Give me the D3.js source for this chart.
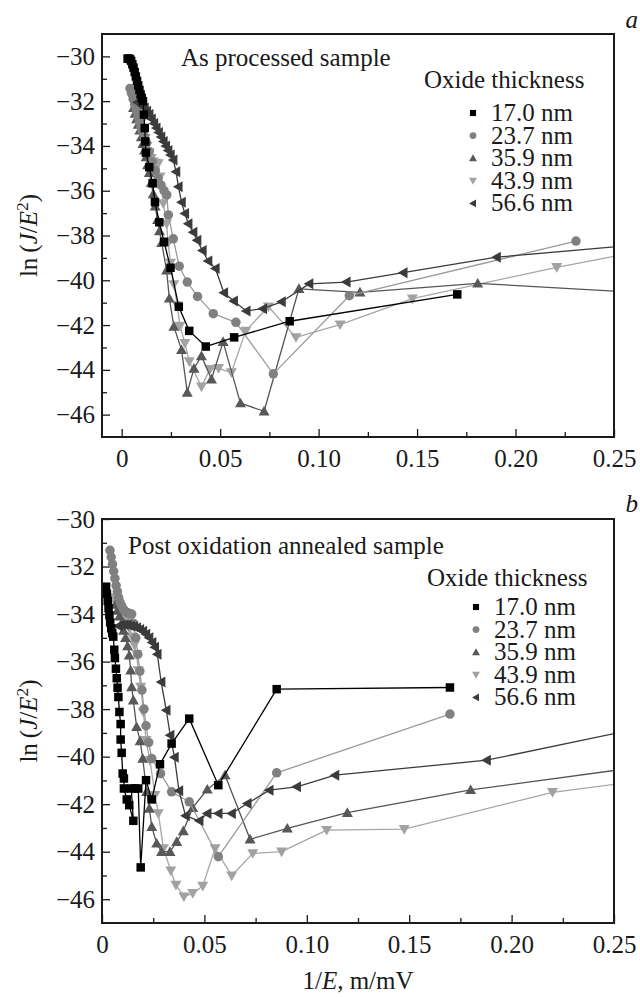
<!DOCTYPE html>
<html><head><meta charset="utf-8">
<script src="https://cdn.jsdelivr.net/npm/d3@7"></script>
<style>
body{margin:0;background:#fff;}
svg{display:block;}
text{font-family:"Liberation Serif","Times New Roman",serif;fill:#1a1a1a;}
</style>
</head><body>
<svg id="chart" width="640" height="997"></svg>
<script>
// ---------- DATA ----------
const seriesNames = ["17.0 nm","23.7 nm","35.9 nm","43.9 nm","56.6 nm"];
const xTickVals = [0, 0.05, 0.10, 0.15, 0.20, 0.25];
const xTickLabels = ["0","0.05","0.10","0.15","0.20","0.25"];
const xMinorVals = [0.025, 0.075, 0.125, 0.175, 0.225];
const yTickVals = [-30,-32,-34,-36,-38,-40,-42,-44,-46];
const yMinorVals = [-31,-33,-35,-37,-39,-41,-43,-45];

// Panel a: As processed sample  [1/E (m/mV), ln(J/E^2)]
const a17 = [[0.0030,-30.10],[0.0036,-30.10],[0.0042,-30.12],[0.0048,-30.20],[0.0054,-30.35],[0.0060,-30.50],[0.0066,-30.70],[0.0072,-30.90],[0.0078,-31.10],[0.0084,-31.30],[0.0090,-31.50],[0.0096,-31.70],[0.0102,-31.85],[0.0108,-32.00],[0.0113,-32.60],[0.0117,-33.20],[0.0120,-33.80],[0.0123,-34.30],[0.0140,-34.95],[0.0157,-35.67],[0.0169,-36.51],[0.0191,-37.41],[0.0215,-38.28],[0.0248,-39.44],[0.0290,-41.18],[0.0343,-42.26],[0.0427,-42.96],[0.0571,-42.55],[0.0853,-41.83],[0.1704,-40.63]];
const a23 = [[0.0042,-31.43],[0.0050,-31.65],[0.0058,-31.90],[0.0066,-32.15],[0.0074,-32.40],[0.0082,-32.65],[0.0090,-32.90],[0.0098,-33.15],[0.0106,-33.35],[0.0114,-33.55],[0.0125,-33.85],[0.0140,-34.25],[0.0155,-34.70],[0.0170,-35.10],[0.0185,-35.45],[0.0200,-35.75],[0.0215,-36.00],[0.0229,-36.19],[0.0237,-37.08],[0.0262,-38.15],[0.0292,-39.37],[0.0333,-40.08],[0.0385,-40.72],[0.0465,-41.49],[0.0580,-41.88],[0.0770,-44.18],[0.1156,-40.69],[0.2307,-38.25]];
const a36 = [[0.0060,-32.30],[0.0068,-32.55],[0.0076,-32.80],[0.0084,-33.05],[0.0092,-33.30],[0.0100,-33.60],[0.0108,-33.90],[0.0116,-34.20],[0.0124,-34.50],[0.0132,-34.85],[0.0140,-35.20],[0.0150,-35.65],[0.0160,-36.15],[0.0170,-36.70],[0.0182,-37.30],[0.0192,-37.80],[0.0203,-38.33],[0.0228,-39.55],[0.0242,-40.81],[0.0265,-42.07],[0.0304,-43.11],[0.0333,-45.01],[0.0367,-43.94],[0.0405,-43.38],[0.0456,-44.42],[0.0515,-42.75],[0.0603,-45.49],[0.0723,-45.85],[0.0900,-40.38],[0.1210,-40.54],[0.1808,-40.14],[0.2700,-40.58]];
const a44 = [[0.0070,-32.00],[0.0080,-32.30],[0.0090,-32.60],[0.0100,-32.95],[0.0110,-33.30],[0.0120,-33.65],[0.0130,-34.00],[0.0140,-34.30],[0.0150,-34.55],[0.0160,-34.70],[0.0172,-34.75],[0.0186,-34.78],[0.0195,-35.37],[0.0211,-36.57],[0.0228,-37.47],[0.0236,-38.33],[0.0248,-39.22],[0.0265,-40.18],[0.0282,-41.12],[0.0296,-42.04],[0.0321,-42.81],[0.0343,-43.63],[0.0405,-44.75],[0.0448,-43.97],[0.0492,-43.93],[0.0557,-44.12],[0.0630,-42.26],[0.0745,-41.18],[0.0885,-42.55],[0.1109,-41.98],[0.1476,-40.82],[0.2209,-39.42],[0.2700,-38.60]];
const a57 = [[0.0080,-32.05],[0.0092,-32.10],[0.0104,-32.20],[0.0116,-32.30],[0.0128,-32.45],[0.0140,-32.60],[0.0152,-32.80],[0.0164,-33.00],[0.0176,-33.20],[0.0188,-33.40],[0.0200,-33.60],[0.0212,-33.80],[0.0224,-34.00],[0.0236,-34.20],[0.0248,-34.40],[0.0262,-34.63],[0.0276,-35.15],[0.0288,-35.82],[0.0304,-36.51],[0.0321,-37.02],[0.0338,-37.47],[0.0363,-37.85],[0.0383,-38.21],[0.0410,-38.67],[0.0439,-39.14],[0.0476,-39.47],[0.0519,-40.56],[0.0569,-40.93],[0.0633,-41.37],[0.0717,-41.27],[0.0812,-40.96],[0.0952,-40.16],[0.1141,-40.08],[0.1430,-39.66],[0.1904,-38.97],[0.2700,-38.35]];

// Panel b: Post oxidation annealed sample
const b17 = [[0.0020,-32.85],[0.0024,-33.15],[0.0028,-33.45],[0.0032,-33.75],[0.0036,-34.05],[0.0040,-34.35],[0.0045,-34.60],[0.0050,-34.80],[0.0055,-34.95],[0.0060,-35.50],[0.0063,-35.85],[0.0068,-36.30],[0.0072,-36.70],[0.0076,-37.10],[0.0080,-37.49],[0.0085,-38.12],[0.0091,-38.63],[0.0091,-39.28],[0.0096,-39.84],[0.0101,-40.71],[0.0107,-40.92],[0.0107,-41.34],[0.0121,-41.80],[0.0133,-42.04],[0.0153,-42.70],[0.0143,-41.34],[0.0161,-41.34],[0.0177,-41.34],[0.0189,-44.66],[0.0215,-40.99],[0.0243,-41.80],[0.0283,-40.32],[0.0340,-39.45],[0.0426,-38.40],[0.0568,-41.20],[0.0853,-37.16],[0.1699,-37.09]];
const b23 = [[0.0039,-31.32],[0.0045,-31.60],[0.0051,-31.90],[0.0057,-32.20],[0.0063,-32.50],[0.0069,-32.80],[0.0075,-33.05],[0.0081,-33.30],[0.0088,-33.50],[0.0096,-33.65],[0.0105,-33.80],[0.0115,-33.90],[0.0125,-33.95],[0.0135,-33.98],[0.0145,-34.00],[0.0155,-34.40],[0.0165,-35.00],[0.0175,-35.70],[0.0185,-36.40],[0.0195,-37.20],[0.0205,-38.00],[0.0215,-38.70],[0.0228,-39.40],[0.0243,-40.08],[0.0286,-40.71],[0.0340,-41.48],[0.0426,-41.90],[0.0568,-44.21],[0.0853,-40.68],[0.1699,-38.21]];
const b36 = [[0.0065,-33.60],[0.0075,-33.85],[0.0085,-34.10],[0.0095,-34.40],[0.0105,-34.70],[0.0115,-35.00],[0.0125,-35.35],[0.0133,-35.74],[0.0140,-36.37],[0.0145,-37.07],[0.0153,-37.63],[0.0169,-38.75],[0.0186,-39.34],[0.0199,-40.08],[0.0218,-41.48],[0.0231,-42.18],[0.0243,-42.95],[0.0267,-43.65],[0.0291,-44.00],[0.0332,-44.00],[0.0365,-43.58],[0.0397,-43.13],[0.0443,-42.15],[0.0514,-41.38],[0.0601,-40.78],[0.0723,-43.48],[0.0905,-43.02],[0.1198,-42.36],[0.1800,-41.40],[0.2700,-40.35]];
const b44 = [[0.0050,-33.30],[0.0062,-33.40],[0.0074,-33.55],[0.0086,-33.70],[0.0098,-33.85],[0.0110,-34.05],[0.0122,-34.30],[0.0134,-34.60],[0.0146,-34.95],[0.0158,-35.30],[0.0169,-35.69],[0.0177,-36.37],[0.0189,-37.07],[0.0202,-38.12],[0.0215,-39.31],[0.0234,-40.15],[0.0259,-41.62],[0.0275,-42.39],[0.0300,-43.86],[0.0336,-44.80],[0.0361,-45.40],[0.0400,-45.89],[0.0443,-45.75],[0.0492,-45.44],[0.0552,-43.86],[0.0633,-45.01],[0.0736,-44.07],[0.0877,-44.00],[0.1097,-43.09],[0.1476,-43.05],[0.2200,-41.50],[0.2700,-40.95]];
const b57 = [[0.0080,-34.50],[0.0095,-34.45],[0.0110,-34.45],[0.0125,-34.45],[0.0140,-34.50],[0.0155,-34.52],[0.0170,-34.58],[0.0185,-34.65],[0.0200,-34.72],[0.0215,-34.85],[0.0230,-35.00],[0.0245,-35.20],[0.0258,-35.40],[0.0270,-35.69],[0.0289,-36.86],[0.0314,-38.05],[0.0333,-39.10],[0.0354,-40.03],[0.0376,-41.44],[0.0408,-42.49],[0.0475,-42.70],[0.0514,-42.39],[0.0568,-42.39],[0.0633,-42.39],[0.0710,-41.97],[0.0817,-41.41],[0.0951,-41.27],[0.1138,-40.78],[0.1878,-40.15],[0.2700,-38.67]];

// ---------- STYLE ----------
const styles = [
  {shape:"square", fill:"#000000", line:"#000000", size:8.5},
  {shape:"circle", fill:"#808080", line:"#9a9a9a", size:9.5},
  {shape:"up",     fill:"#585858", line:"#555555", size:11},
  {shape:"down",   fill:"#a2a2a2", line:"#a6a6a6", size:11},
  {shape:"left",   fill:"#3b3b3b", line:"#3b3b3b", size:11}
];
const drawOrder = [3,2,1,4,0];

function markerPath(shape, s){
  const h = s/2;
  switch(shape){
    case "square": return `M${-h},${-h}h${s}v${s}h${-s}Z`;
    case "circle": return `M${h},0A${h},${h} 0 1,1 ${-h},0A${h},${h} 0 1,1 ${h},0Z`;
    case "up":   return `M0,${-s*0.5}L${h},${s*0.38}L${-h},${s*0.38}Z`;
    case "down": return `M0,${s*0.5}L${h},${-s*0.38}L${-h},${-s*0.38}Z`;
    case "left": return `M${-s*0.5},0L${s*0.38},${-h}L${s*0.38},${h}Z`;
  }
}

const svg = d3.select("#chart");
const X0 = 102, X1 = 614;
const FS = 25;

const panels = [
  {id:"a", top:34, bottom:437, xDomain:[-0.01,0.25], yDomain:[-47,-29], series:[a17,a23,a36,a44,a57],
   title:"As processed sample", titleX:181, titleY:66, legX:424, legY:88, entryY0:121, letterY:28},
  {id:"b", top:519, bottom:923, xDomain:[0,0.25], yDomain:[-47,-30], series:[b17,b23,b36,b44,b57],
   title:"Post oxidation annealed sample", titleX:128, titleY:554, legX:427, legY:586, entryY0:615, letterY:512}
];
const entryStep = 22.6;

panels.forEach(p => {
  const x = d3.scaleLinear().domain(p.xDomain).range([X0, X1]);
  const y = d3.scaleLinear().domain(p.yDomain).range([p.bottom, p.top]);
  const g = svg.append("g");

  const clipId = "clip-" + p.id;
  svg.append("clipPath").attr("id", clipId).append("rect")
    .attr("x", X0).attr("y", p.top).attr("width", X1 - X0).attr("height", p.bottom - p.top);

  // axes (ticks inward)
  const yAx = g.append("g").attr("transform", `translate(${X0},0)`)
    .call(d3.axisLeft(y).tickValues(yTickVals).tickSize(-8).tickPadding(7).tickFormat(d => "\u2212" + Math.abs(d)));
  const yMin = g.append("g").attr("transform", `translate(${X0},0)`)
    .call(d3.axisLeft(y).tickValues(yMinorVals).tickSize(-5).tickFormat(""));
  const xAx = g.append("g").attr("transform", `translate(0,${p.bottom})`)
    .call(d3.axisBottom(x).tickValues(xTickVals).tickSize(-8).tickPadding(12).tickFormat((d,i) => xTickLabels[i]));
  const xMin = g.append("g").attr("transform", `translate(0,${p.bottom})`)
    .call(d3.axisBottom(x).tickValues(xMinorVals).tickSize(-5).tickFormat(""));
  [yAx, yMin, xAx, xMin].forEach(a => {
    a.select(".domain").remove();
    a.selectAll("line").attr("stroke", "#1a1a1a").attr("stroke-width", 1.3);
    a.selectAll("text").attr("font-size", FS).attr("font-family", '"Liberation Serif", serif').attr("fill", "#1a1a1a");
  });

  // series
  const plot = g.append("g").attr("clip-path", `url(#${clipId})`);
  const line = d3.line().x(d => x(d[0])).y(d => y(d[1]));
  drawOrder.forEach(si => {
    const st = styles[si], data = p.series[si];
    plot.append("path").datum(data).attr("d", line)
      .attr("fill", "none").attr("stroke", st.line).attr("stroke-width", 1.3).attr("stroke-linejoin", "round");
    plot.selectAll(null).data(data).enter().append("path")
      .attr("transform", d => `translate(${x(d[0])},${y(d[1])})`)
      .attr("d", markerPath(st.shape, st.size))
      .attr("fill", st.fill);
  });

  // frame
  g.append("rect").attr("x", X0).attr("y", p.top).attr("width", X1 - X0).attr("height", p.bottom - p.top)
    .attr("fill", "none").attr("stroke", "#1a1a1a").attr("stroke-width", 2);

  // panel annotations
  g.append("text").attr("x", p.titleX).attr("y", p.titleY).attr("font-size", FS).text(p.title);
  g.append("text").attr("x", 638).attr("y", p.letterY).attr("text-anchor", "end")
    .attr("font-size", FS).attr("font-style", "italic").text(p.id);

  // legend
  g.append("text").attr("x", p.legX).attr("y", p.legY).attr("font-size", FS).text("Oxide thickness");
  seriesNames.forEach((name, i) => {
    const cy = p.entryY0 + i * entryStep;
    g.append("path").attr("transform", `translate(${p.legX + 49},${cy - 8})`)
      .attr("d", markerPath(styles[i].shape, styles[i].size * 0.72)).attr("fill", styles[i].fill);
    g.append("text").attr("x", p.legX + 67).attr("y", cy).attr("font-size", FS).text(name);
  });

  // y-axis title
  const cyT = (p.top + p.bottom) / 2;
  const yt = g.append("text").attr("transform", `translate(37,${cyT}) rotate(-90)`)
    .attr("text-anchor", "middle").attr("font-size", FS);
  yt.append("tspan").text("ln\u2009(");
  yt.append("tspan").attr("font-style", "italic").text("J");
  yt.append("tspan").text("/");
  yt.append("tspan").attr("font-style", "italic").text("E");
  yt.append("tspan").attr("font-size", FS * 0.7).attr("dy", -9).text("2");
  yt.append("tspan").attr("dy", 9).text(")");
});

// x-axis title
const xt = svg.append("text").attr("x", 358).attr("y", 989).attr("text-anchor", "middle").attr("font-size", FS);
xt.append("tspan").text("1/");
xt.append("tspan").attr("font-style", "italic").text("E");
xt.append("tspan").text(", m/mV");
</script>
</body></html>
